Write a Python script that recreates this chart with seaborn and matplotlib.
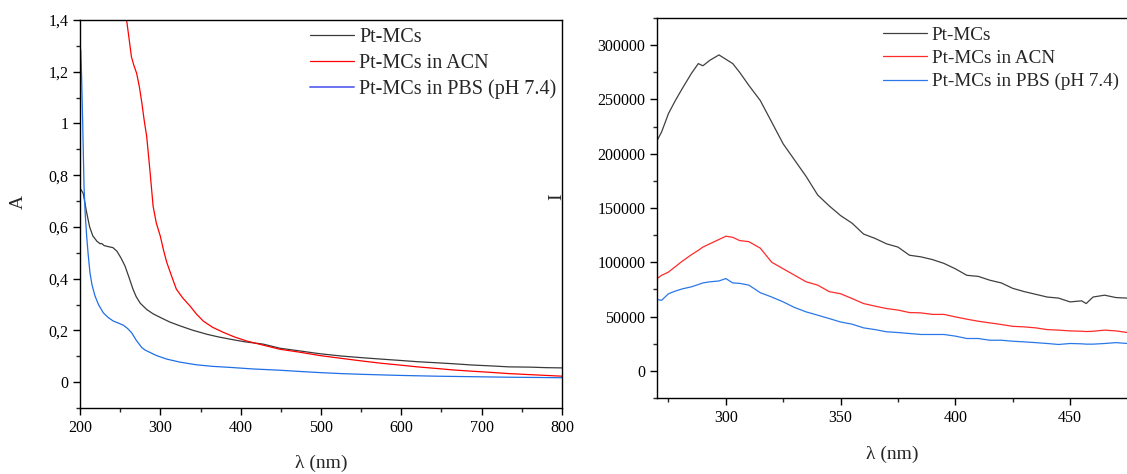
import numpy as np
import pandas as pd
import seaborn as sns
import matplotlib
matplotlib.use("Agg")
import matplotlib.pyplot as plt
from matplotlib.ticker import FuncFormatter, MultipleLocator

# ---------------- data ----------------
labels = ["Pt-MCs", "Pt-MCs in ACN", "Pt-MCs in PBS (pH 7.4)"]

# Left panel: absorbance
abs_wl_black = [200, 204, 208, 212, 216, 221, 225, 227, 230, 235, 241, 246, 251, 256, 261, 266, 270, 275,
                283, 291, 300, 312, 325, 340, 358, 372, 387, 405, 428, 449, 475, 498, 525, 553, 575, 598,
                620, 643, 665, 689, 710, 734, 760, 780, 800]
abs_black = [0.75, 0.73, 0.66, 0.60, 0.565, 0.545, 0.535, 0.536, 0.528, 0.524, 0.52, 0.506, 0.48, 0.449,
             0.405, 0.359, 0.33, 0.305, 0.281, 0.264, 0.25, 0.232, 0.217, 0.201, 0.185, 0.175, 0.166,
             0.156, 0.147, 0.131, 0.12, 0.11, 0.101, 0.094, 0.089, 0.084, 0.079, 0.075, 0.071, 0.066,
             0.063, 0.059, 0.058, 0.056, 0.055]

abs_wl_red = [258, 261, 264, 267, 270.5, 274, 277, 280, 283, 287, 291, 295, 300, 304, 308, 314, 320, 328,
              337, 345, 353.5, 365, 378, 392, 407.5, 428, 449, 475, 498, 525, 553, 575, 598, 620, 643,
              665, 689, 710, 734, 760, 780, 800]
abs_red = [1.40, 1.33, 1.258, 1.225, 1.194, 1.14, 1.079, 1.01, 0.95, 0.82, 0.68, 0.615, 0.564, 0.51,
           0.463, 0.41, 0.359, 0.325, 0.294, 0.263, 0.236, 0.212, 0.193, 0.175, 0.159, 0.143, 0.127,
           0.115, 0.103, 0.092, 0.081, 0.073, 0.066, 0.059, 0.053, 0.047, 0.042, 0.038, 0.033, 0.029,
           0.026, 0.023]

abs_wl_blue = [200, 201, 202, 203.3, 205, 206.5, 208.3, 210, 212.4, 215, 218.7, 223, 229, 235, 241.5, 248,
               254, 259, 264.3, 270, 276.8, 281, 287, 295, 308, 325, 345, 365, 386.7, 415, 449, 475, 498,
               525, 553, 598, 643, 689, 734, 770, 800]
abs_blue = [1.30, 1.28, 1.18, 1.01, 0.757, 0.65, 0.564, 0.50, 0.423, 0.375, 0.333, 0.30, 0.268, 0.25,
            0.236, 0.228, 0.22, 0.208, 0.191, 0.162, 0.134, 0.124, 0.115, 0.103, 0.089, 0.077, 0.067,
            0.061, 0.057, 0.051, 0.046, 0.041, 0.037, 0.033, 0.030, 0.026, 0.023, 0.021, 0.019,
            0.018, 0.017]

# Right panel: fluorescence intensity
fl_wl = [270, 272, 275, 278, 281, 285, 288, 290, 293, 297, 300, 303, 306, 310, 315, 320, 325, 330, 335,
         340, 345, 350, 355, 360, 365, 370, 375, 380, 385, 390, 395, 400, 405, 410, 415, 420, 425, 430,
         435, 440, 445, 450, 455, 457, 460, 465, 470, 475]
fl_black = [212000, 220000, 237000, 249000, 260000, 274000, 283000, 281000, 286000, 291000, 287000,
            283000, 275000, 263000, 249000, 229000, 209000, 194000, 179000, 162000, 152000, 143000,
            136000, 126000, 122000, 117000, 114000, 106500, 105000, 102500, 99000, 94000, 88000, 87000,
            83500, 81000, 76000, 73000, 70500, 68000, 67000, 63500, 64500, 62000, 68000, 69700, 67500, 67000]
fl_red = [85000, 88000, 91000, 96000, 101000, 107000, 111000, 114000, 117000, 121000, 124000, 123000,
          120000, 119000, 113000, 100000, 94000, 88000, 82000, 79000, 73000, 71000, 66600, 62000, 59600,
          57400, 56000, 53700, 53400, 52000, 52000, 49700, 47600, 45700, 44200, 42700, 41000, 40500,
          39600, 38000, 37500, 36800, 36500, 36200, 36500, 37500, 36800, 35300]
fl_blue = [65700, 65000, 71000, 73500, 75500, 77400, 79500, 81000, 82000, 82800, 85000, 81000, 80600,
           79000, 72000, 68000, 63500, 58300, 54300, 51300, 48200, 45000, 43000, 39600, 38000, 36000,
           35300, 34400, 33500, 33500, 33500, 32000, 29800, 29800, 28200, 28200, 27300, 26700, 26000,
           25200, 24300, 25200, 24900, 24600, 24600, 25200, 26000, 25200]

# ---------------- build tables ----------------
df_abs = pd.concat([
    pd.DataFrame({"wl": abs_wl_black, "val": abs_black, "s": labels[0]}),
    pd.DataFrame({"wl": abs_wl_red, "val": abs_red, "s": labels[1]}),
    pd.DataFrame({"wl": abs_wl_blue, "val": abs_blue, "s": labels[2]}),
])
df_fl = pd.concat([
    pd.DataFrame({"wl": fl_wl, "val": fl_black, "s": labels[0]}),
    pd.DataFrame({"wl": fl_wl, "val": fl_red, "s": labels[1]}),
    pd.DataFrame({"wl": fl_wl, "val": fl_blue, "s": labels[2]}),
])

sns.set_style("ticks")
plt.rcParams["font.family"] = ["Liberation Serif", "DejaVu Serif"]

fig = plt.figure(figsize=(11.27, 4.74), dpi=100)
W, H = 1127, 474
axL = fig.add_axes([80 / W, (H - 408) / H, (562 - 80) / W, (408 - 20) / H])
axR = fig.add_axes([657 / W, (H - 398) / H, (1127.5 - 657) / W, (398 - 18) / H])

pal_L = {labels[0]: "#3a3a3a", labels[1]: "#ff0000", labels[2]: "#1f6fe8"}
pal_R = {labels[0]: "#404040", labels[1]: "#ff2a2a", labels[2]: "#2a78e8"}

sns.lineplot(data=df_abs, x="wl", y="val", hue="s", palette=pal_L, estimator=None, sort=False,
             linewidth=0.9, ax=axL, legend=True)
sns.lineplot(data=df_fl, x="wl", y="val", hue="s", palette=pal_R, estimator=None, sort=False,
             linewidth=0.9, ax=axR, legend=True)

tick_fs = 11.5
for ax in (axL, axR):
    for sp in ax.spines.values():
        sp.set_visible(True)
        sp.set_linewidth(1.0)
        sp.set_color("black")
    ax.tick_params(which="major", direction="out", length=5, width=1, labelsize=tick_fs, colors="black",
                   top=False, right=False)
    ax.tick_params(which="minor", direction="out", length=3, width=1, top=False, right=False)
    ax.set_facecolor("white")

# Left axes
axL.set_xlim(200, 800)
axL.set_ylim(-0.1, 1.4)
axL.set_xticks([200, 300, 400, 500, 600, 700, 800])
axL.xaxis.set_minor_locator(MultipleLocator(50))
axL.set_yticks([0, 0.2, 0.4, 0.6, 0.8, 1.0, 1.2, 1.4])
axL.yaxis.set_minor_locator(MultipleLocator(0.1))
axL.yaxis.set_major_formatter(FuncFormatter(lambda v, p: "{:g}".format(round(v, 1)).replace(".", ",")))
axL.set_xlabel("λ (nm)", fontsize=14)
axL.set_ylabel("A", fontsize=14)
axL.yaxis.set_label_coords(-0.11, 0.53)
axL.xaxis.set_label_coords(0.5, -0.12)

# Right axes
axR.set_xlim(270, 475)
axR.set_ylim(-25000, 325000)
axR.set_xticks([300, 350, 400, 450])
axR.xaxis.set_minor_locator(MultipleLocator(25))
axR.set_yticks([0, 50000, 100000, 150000, 200000, 250000, 300000])
axR.yaxis.set_minor_locator(MultipleLocator(25000))
axR.yaxis.set_major_formatter(FuncFormatter(lambda v, p: "%d" % int(round(v))))
axR.set_xlabel("λ (nm)", fontsize=14)
axR.set_ylabel("I", fontsize=14)
axR.yaxis.set_label_coords(-0.195, 0.53)
axR.xaxis.set_label_coords(0.5, -0.125)

legkwL = dict(frameon=False, fontsize=14.5, handlelength=2.2, handletextpad=0.25, labelspacing=0.33,
              borderpad=0, borderaxespad=0, loc="upper left")
legkwR = dict(frameon=False, fontsize=13.8, handlelength=2.3, handletextpad=0.25, labelspacing=0.3,
              borderpad=0, borderaxespad=0, loc="upper left")
hL, lL = axL.get_legend_handles_labels()
legL = axL.legend(hL, lL, bbox_to_anchor=((310 - 80) / 482, (408 - 28) / 388), **legkwL)
legL.get_lines()[2].set_color("#6a74f2")
legL.get_lines()[2].set_linewidth(1.4)
hR, lR = axR.get_legend_handles_labels()
axR.legend(hR, lR, bbox_to_anchor=((883 - 657) / 470.5, (398 - 26.5) / 380), **legkwR)

fig.savefig("out.png", dpi=100, facecolor="white")
